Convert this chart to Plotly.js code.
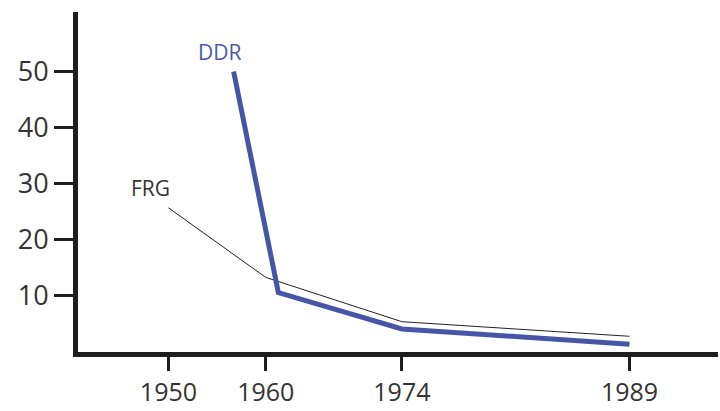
<!DOCTYPE html>
<html>
<head>
<meta charset="utf-8">
<script src="https://cdn.plot.ly/plotly-3.0.1.min.js"></script>
<style>html,body{margin:0;padding:0;background:#fff;}#chart{width:720px;height:411px;}</style>
</head>
<body>
<div id="chart"></div>
<script>
// Axis positions of the points (the 1989 tick sits further right on the original axis)
const ddrX = [1956.7, 1961.3, 1974, 1997.4];
const ddrY = [50, 10.6, 4.1, 1.4];
const frgX = [1950, 1960, 1974, 1997.4];
const frgY = [25.7, 13.3, 5.4, 2.8];
const xTickVals = [1950, 1960, 1974, 1997.4];
const xTickText = ['1950', '1960', '1974', '1989'];
const yTickVals = [10, 20, 30, 40, 50];

const traces = [
  {x: frgX, y: frgY, mode: 'lines', line: {color: '#222222', width: 1}, hoverinfo: 'skip'},
  {x: ddrX, y: ddrY, mode: 'lines', line: {color: '#4656a6', width: 5}, hoverinfo: 'skip'}
];

const layout = {
  width: 720, height: 411,
  margin: {l: 78, r: 2, t: 12, b: 59},
  paper_bgcolor: '#fff', plot_bgcolor: '#fff',
  showlegend: false,
  font: {family: 'Open Sans, sans-serif', color: '#333333'},
  xaxis: {
    range: [1940.7, 2006.5], tickvals: xTickVals, ticktext: xTickText,
    showgrid: false, zeroline: false, showline: true, linecolor: '#1e1e1e', linewidth: 5,
    ticks: 'outside', ticklen: 14, tickwidth: 3, tickcolor: '#1e1e1e',
    tickfont: {size: 25, color: '#333333'}
  },
  yaxis: {
    range: [0, 60.6], tickvals: yTickVals,
    showgrid: false, zeroline: false, showline: true, linecolor: '#1e1e1e', linewidth: 5,
    ticks: 'outside', ticklen: 19, tickwidth: 3, tickcolor: '#1e1e1e',
    tickfont: {size: 27, color: '#333333'}
  },
  annotations: [
    {x: 1955.2, y: 53.4, xref: 'x', yref: 'y', text: 'DDR', showarrow: false,
     font: {size: 21, color: '#4a5aa8'}},
    {x: 1948.2, y: 29.3, xref: 'x', yref: 'y', text: 'FRG', showarrow: false,
     font: {size: 21, color: '#333333'}}
  ]
};

Plotly.newPlot('chart', traces, layout, {displayModeBar: false, staticPlot: true});
</script>
</body>
</html>
